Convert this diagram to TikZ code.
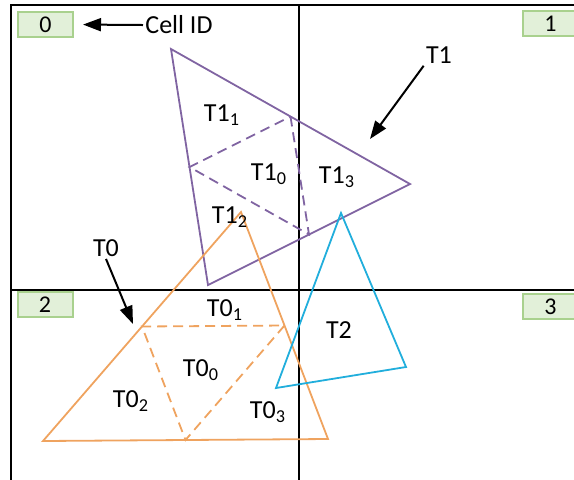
\documentclass[tikz,border=0pt]{standalone}
\usepackage{fontspec}
\setmainfont{Carlito}
\usetikzlibrary{arrows.meta,calc}

\definecolor{tripurple}{HTML}{8064A2}
\definecolor{triorange}{HTML}{EFA35F}
\definecolor{tricyan}{HTML}{21AEDC}
\definecolor{cellfill}{HTML}{E2F0D9}
\definecolor{celledge}{HTML}{A9D18E}

\begin{document}
\begin{tikzpicture}[x=0.5pt,y=-0.5pt,
  cellid/.style={draw=celledge,fill=cellfill,line width=1pt,minimum width=27.5pt,minimum height=12.5pt,inner sep=0pt,font=\fontsize{12}{12}\selectfont},
  lbl/.style={font=\fontsize{13}{13}\selectfont,inner sep=1pt},
  ptr/.style={-{Triangle[length=9pt,width=6.5pt]},line width=1pt},
  grid/.style={line width=1.2pt},
  tri/.style={line width=0.9pt},
  sub/.style={dash pattern=on 5pt off 3pt,line width=0.9pt}
]
\path[use as bounding box,clip] (0,0) rectangle (574,479);

% cells
\draw[grid] (11,5) rectangle (590,495);
\draw[grid] (299,5) -- (299,495);
\draw[grid] (11,290) -- (590,290);
\node[cellid] (cell0) at (45.5,24.5) {0};
\node[cellid] (cell1) at (550.5,23.5) {1};
\node[cellid] (cell2) at (45,304.5) {2};
\node[cellid] (cell3) at (550.5,306.5) {3};

% triangle corners
\coordinate (t1a) at (171,49);
\coordinate (t1b) at (410,184);
\coordinate (t1c) at (208,285);
\coordinate (t0a) at (241,212);
\coordinate (t0b) at (328,439);
\coordinate (t0c) at (43,441);
\coordinate (t2a) at (341,213);
\coordinate (t2b) at (406,367);
\coordinate (t2c) at (276,388);

\draw[tri,tripurple] (t1a) -- (t1b) -- (t1c) -- cycle;
\draw[sub,tripurple] ($(t1a)!0.5!(t1b)$) -- ($(t1b)!0.5!(t1c)$) -- ($(t1c)!0.5!(t1a)$) -- cycle;
\draw[tri,triorange] (t0a) -- (t0b) -- (t0c) -- cycle;
\draw[sub,triorange] ($(t0a)!0.5!(t0b)$) -- ($(t0b)!0.5!(t0c)$) -- ($(t0c)!0.5!(t0a)$) -- cycle;
\draw[tri,tricyan] (t2a) -- (t2b) -- (t2c) -- cycle;

% labels
\node[lbl] (t1lbl) at (439,55) {T1};
\node[lbl] (t0lbl) at (106,248) {T0};
\node[lbl] (t2lbl) at (339,330) {T2};
\node[lbl] (t1s0) at (269,174) {T1\textsubscript{0}};
\node[lbl] (t1s1) at (222,115) {T1\textsubscript{1}};
\node[lbl] (t1s2) at (230,217) {T1\textsubscript{2}};
\node[lbl] (t1s3) at (337,177) {T1\textsubscript{3}};
\node[lbl] (t0s0) at (201,370) {T0\textsubscript{0}};
\node[lbl] (t0s1) at (225,310) {T0\textsubscript{1}};
\node[lbl] (t0s2) at (131,401) {T0\textsubscript{2}};
\node[lbl] (t0s3) at (268,412) {T0\textsubscript{3}};
\node[lbl,anchor=west] (cidlbl) at (143,25) {Cell ID};

% pointers
\coordinate (t1tip) at (370,139);
\coordinate (t0tip) at (133,324);
\draw[ptr,shorten >=4.5pt] (cidlbl.west) -- (cell0.east);
\draw[ptr] (t1lbl.south west) -- (t1tip);
\draw[ptr] (t0lbl.south) -- (t0tip);
\end{tikzpicture}
\end{document}
